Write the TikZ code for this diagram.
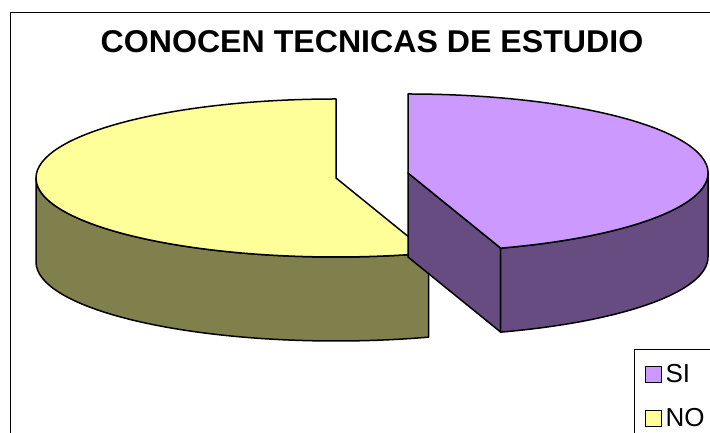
\documentclass[tikz,border=0pt]{standalone}
\usepackage{fontspec}
\setmainfont{Liberation Sans}
\usetikzlibrary{calc}
\definecolor{notop}{HTML}{FFFF99}
\definecolor{noside}{HTML}{80804C}
\definecolor{sitop}{HTML}{CC99FF}
\definecolor{siside}{HTML}{664C80}
\tikzset{
  slice/.style={draw=black, line width=1.5pt, line join=round},
  keybox/.style={draw=black, line width=0.9pt, minimum size=16pt, inner sep=0pt},
  keytext/.style={anchor=west, inner sep=0pt, font=\fontsize{26}{30}\selectfont},
}

\begin{document}
\begin{tikzpicture}[x=1pt, y=1pt]
\useasboundingbox (0,0) rectangle (710,433);
\clip (0,0) rectangle (710,433);
\fill[white] (0,0) rectangle (710,433);

% frame of the chart
\coordinate (frametop) at (10,420);
\draw[line width=1pt] (frametop -| 720,0) -- (frametop) -- (10,-5);

% title
\node[xscale=1.02] (title) at (372,391) {\fontsize{31.5}{36}\selectfont\bfseries CONOCEN TECNICAS DE ESTUDIO};

% NO slice
\coordinate (nocenter) at (336,255);
\draw[slice, fill=noside] (nocenter) ++(-300,0)
  arc[start angle=180, end angle=288, x radius=300, y radius=79] -- ++(0,-84)
  arc[start angle=288, end angle=180, x radius=300, y radius=79] -- cycle;
\draw[slice, fill=notop] (nocenter) -- ++(0,79)
  arc[start angle=90, end angle=288, x radius=300, y radius=79] -- cycle;

% SI slice
\coordinate (sicenter) at (408,260);
\coordinate (sifront) at ($(sicenter)+(-72:300 and 79)$);
\draw[slice, fill=siside] (sicenter) -- (sifront) -- ++(0,-84) -- ($(sicenter)+(0,-84)$) -- cycle;
\draw[slice, fill=siside] (sifront)
  arc[start angle=-72, end angle=0, x radius=300, y radius=79] -- ++(0,-84)
  arc[start angle=0, end angle=-72, x radius=300, y radius=79] -- cycle;
\draw[slice, fill=sitop] (sicenter) -- (sifront)
  arc[start angle=-72, end angle=90, x radius=300, y radius=79] -- cycle;

% legend
\coordinate (legend) at (634,84);
\draw[line width=0.8pt] (legend |- 0,-5) -- (legend) -- (720,84);
\node[keybox, fill=sitop] (sikey) at (653,59) {};
\node[keytext] (silabel) at ([xshift=4pt]sikey.east) {SI};
\node[keybox, fill=notop] (nokey) at (653,15) {};
\node[keytext] (nolabel) at ([xshift=4pt]nokey.east) {NO};
\end{tikzpicture}
\end{document}
